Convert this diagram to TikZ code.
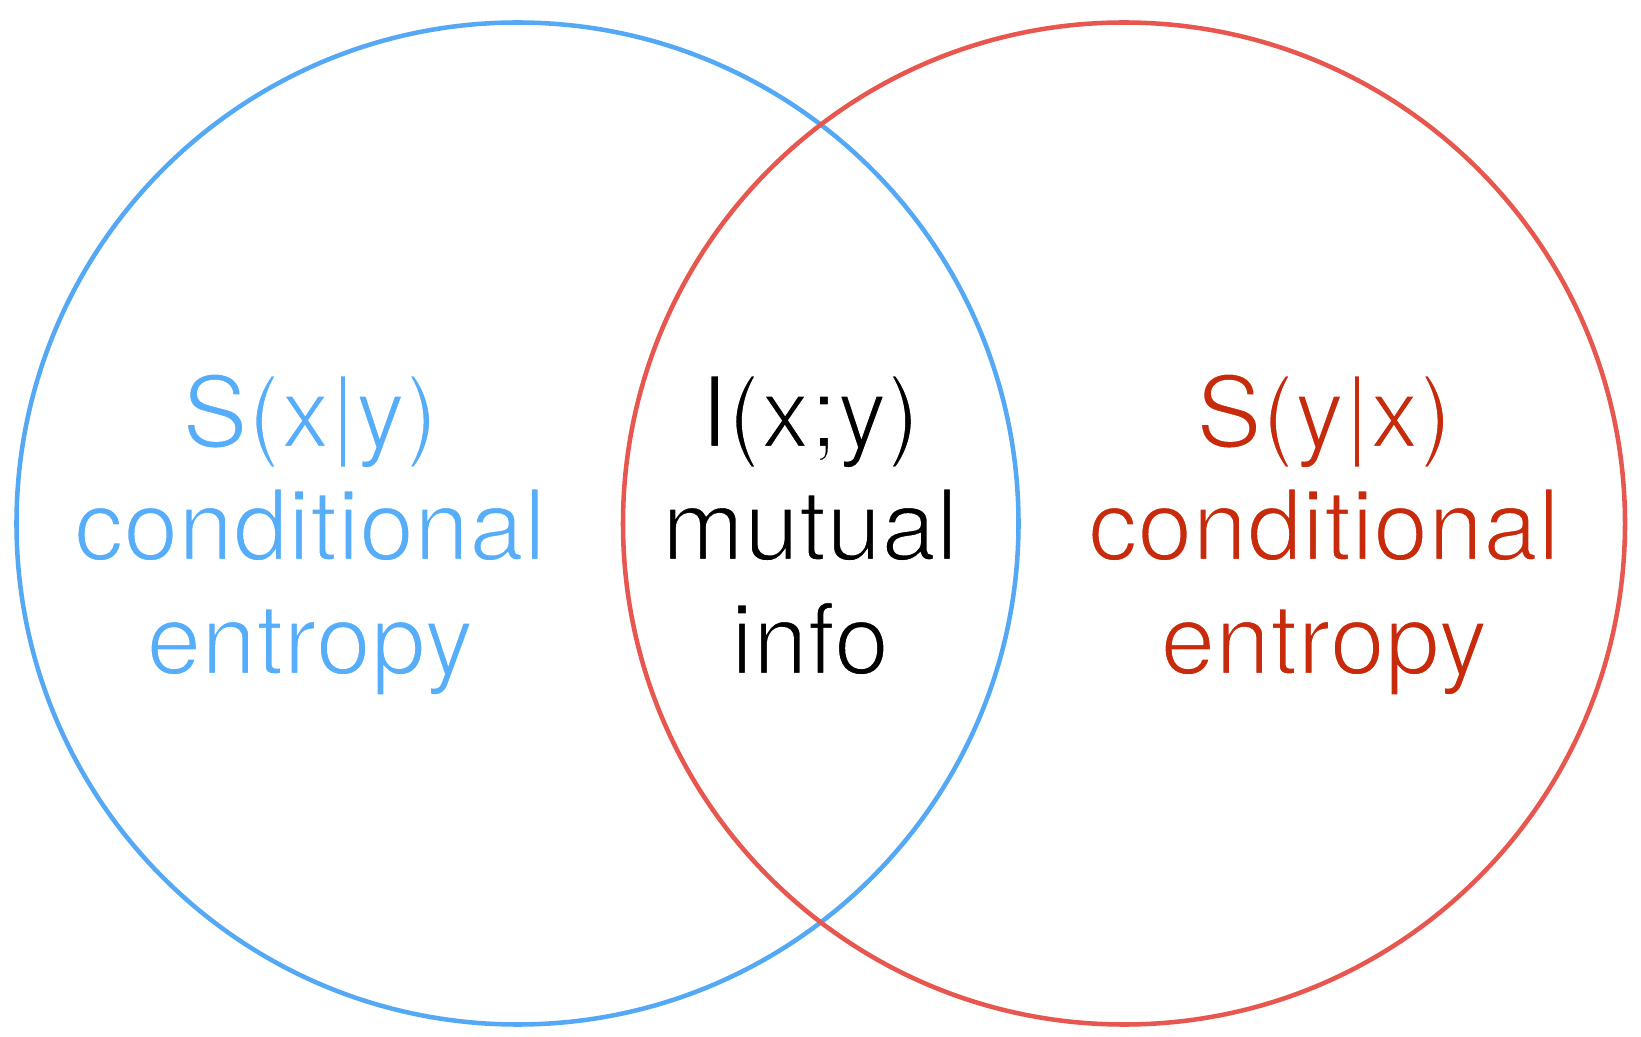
\documentclass[tikz,border=0pt]{standalone}
\usepackage{fontspec}
\setmainfont{TeX Gyre Heros}
\definecolor{bluec}{HTML}{55A9F4}
\definecolor{bluet}{HTML}{56ADFA}
\definecolor{redc}{HTML}{E8574F}
\definecolor{redt}{HTML}{C82A0C}
\newcommand\thintext[1]{\special{pdf:literal direct 2 Tr 1 1 1 RG 1.8 w}#1\special{pdf:literal direct 0 Tr}}
\tikzset{
  ring/.style={line width=3.4pt},
  lbl/.style={anchor=base, inner sep=0pt, font=\fontsize{74}{85}\selectfont},
}
\begin{document}
\begin{tikzpicture}[x=0.75pt,y=0.75pt]
\useasboundingbox (0,0) rectangle (1641,1036);
\draw[ring, bluec] (517.5,512.5) circle (501);
\draw[ring, redc] (1124,512.5) circle (501);
% left
\node[lbl, text=bluet] (l1) at (310,589) {\thintext{S(x|y)}};
\node[lbl, text=bluet] (l2) at (310,476) {\thintext{conditional}};
\node[lbl, text=bluet] (l3) at (310,362) {\thintext{entropy}};
% middle
\node[lbl, text=black] (m1) at (810,589) {\thintext{I(x;y)}};
\node[lbl, text=black] (m2) at (810,476) {\thintext{mutual}};
\node[lbl, text=black] (m3) at (810,362) {\thintext{info}};
% right
\node[lbl, text=redt] (r1) at (1324,589) {\thintext{S(y|x)}};
\node[lbl, text=redt] (r2) at (1324,476) {\thintext{conditional}};
\node[lbl, text=redt] (r3) at (1324,362) {\thintext{entropy}};
\end{tikzpicture}
\end{document}
